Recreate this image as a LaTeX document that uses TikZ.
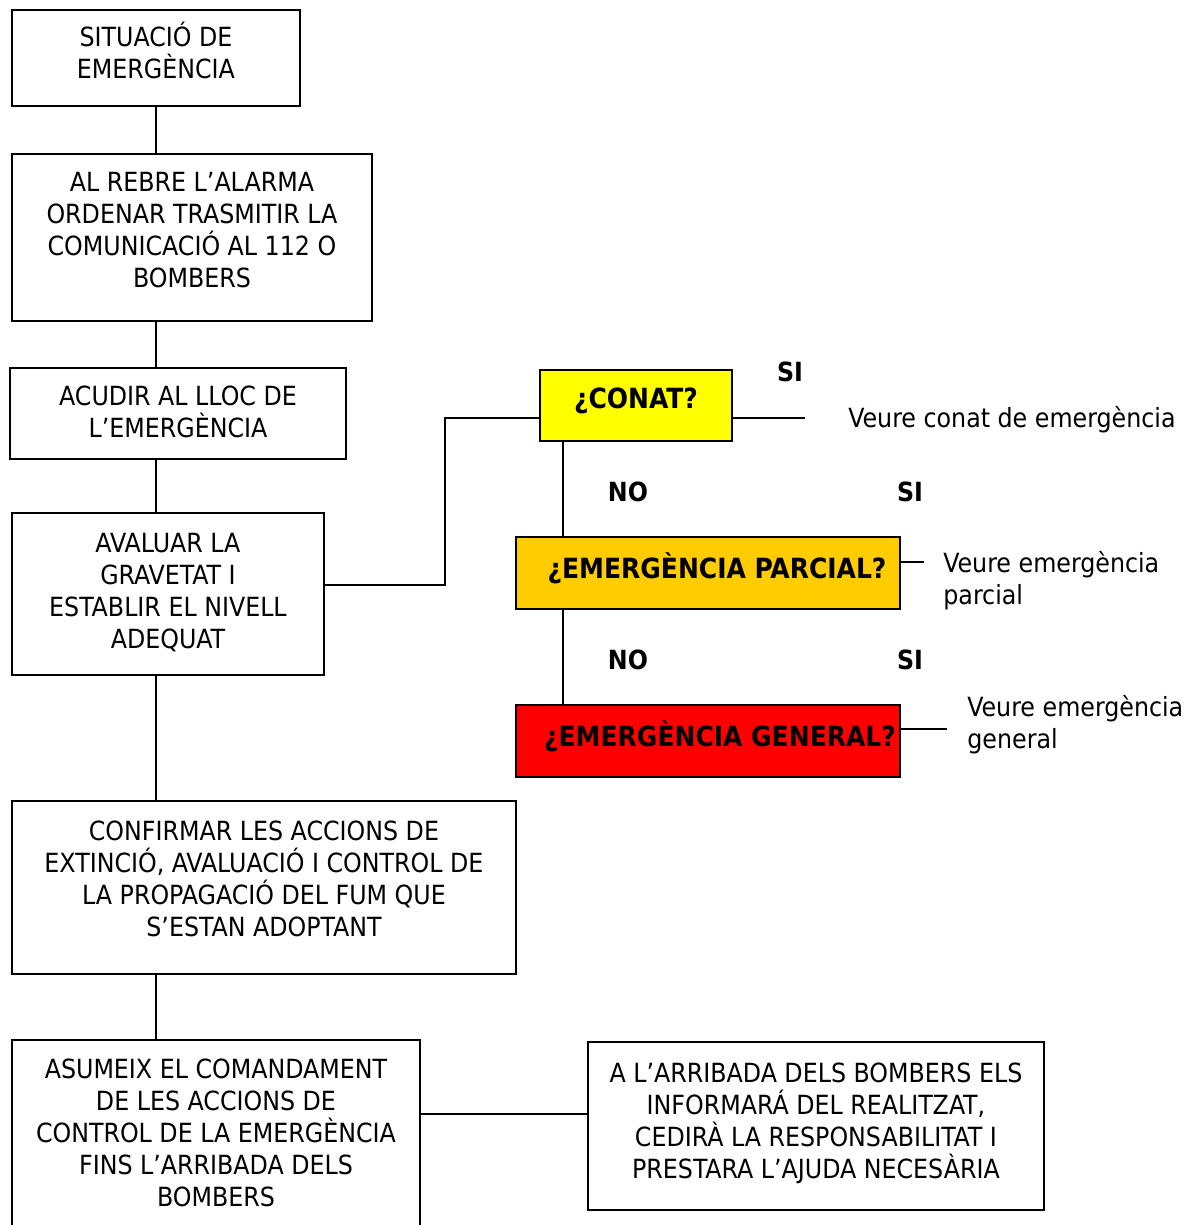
\documentclass[tikz,border=0pt]{standalone}
\usepackage{fontspec}
\setmainfont{DejaVu Sans Condensed}
\newcommand\flowfont{\fontsize{13.2}{16}\selectfont}
\newcommand\askfont{\fontsize{13.9}{16}\selectfont\bfseries}
\definecolor{conatyellow}{RGB}{255,255,0}
\definecolor{parcialorange}{RGB}{255,204,0}
\definecolor{generalred}{RGB}{255,0,0}
\tikzset{
  box/.style={draw, line width=1pt, align=center, inner sep=0pt, text depth=#1},
  box/.default=7pt,
  question/.style={box, font=\askfont},
  answer/.style={font=\flowfont\bfseries},
  note/.style={align=left, anchor=west, inner sep=0pt},
  link/.style={line width=1pt}
}
\begin{document}
\begin{tikzpicture}[x=0.5pt, y=-0.5pt, font=\flowfont]
\useasboundingbox (0,0) rectangle (1192,1225);
% left column
\node[box=7.5pt, minimum width=144pt, minimum height=48pt] (situacio) at (156,58) {SITUACIÓ DE\\EMERGÈNCIA};
\node[box=8pt, minimum width=180pt, minimum height=83.5pt] (alarma) at (192,237.5) {AL REBRE L’ALARMA\\ORDENAR TRASMITIR LA\\COMUNICACIÓ AL 112 O\\BOMBERS};
\node[box=2pt, minimum width=168pt, minimum height=45.5pt] (acudir) at (178,413.5) {ACUDIR AL LLOC DE\\L’EMERGÈNCIA};
\node[box=3pt, minimum width=156pt, minimum height=81pt] (avaluar) at (168,594) {AVALUAR LA\\GRAVETAT I\\ESTABLIR EL NIVELL\\ADEQUAT};
\node[box=9pt, minimum width=252pt, minimum height=86.5pt] (confirmar) at (264,887.5) {CONFIRMAR LES ACCIONS DE\\EXTINCIÓ, AVALUACIÓ I CONTROL DE\\LA PROPAGACIÓ DEL FUM QUE\\S’ESTAN ADOPTANT};
\node[box=2pt, minimum width=204pt, minimum height=95pt] (asumeix) at (216,1135) {ASUMEIX EL COMANDAMENT\\DE LES ACCIONS DE\\CONTROL DE LA EMERGÈNCIA\\FINS L’ARRIBADA DELS\\BOMBERS};
\node[box=5pt, minimum width=228pt, minimum height=84pt] (arribada) at (816,1126) {A L’ARRIBADA DELS BOMBERS ELS\\INFORMARÁ DEL REALITZAT,\\CEDIRÀ LA RESPONSABILITAT I\\PRESTARA L’AJUDA NECESÀRIA};
% questions
\node[question, fill=conatyellow, minimum width=96pt, minimum height=35.5pt] (conat) at (636,405.5) {¿CONAT?};
\node[question, fill=parcialorange, minimum width=192pt, minimum height=36pt] (parcial) at (708,573) {\hspace*{9pt}¿EMERGÈNCIA PARCIAL?};
\node[question, fill=generalred, minimum width=192pt, minimum height=36pt] (general) at (708,741) {\hspace*{12pt}¿EMERGÈNCIA GENERAL?};
% answers
\node[answer] (si1) at (790,372) {SI};
\node[answer] (no1) at (628,492) {NO};
\node[answer] (si2) at (910,492) {SI};
\node[answer] (no2) at (628,660) {NO};
\node[answer] (si3) at (910,660) {SI};
\node[note] (veureconat) at (848,420) {Veure conat de emergència};
\node[note] (veureparcial) at (943,581) {Veure emergència\\parcial};
\node[note] (veuregeneral) at (967,725) {Veure emergència\\general};
\coordinate (endconat) at (805,418);
\coordinate (endparcial) at (924,562);
\coordinate (endgeneral) at (947,729);
% connectors
\draw[link] (situacio.south) -- (situacio.south |- alarma.north);
\draw[link] (situacio.south |- alarma.south) -- (situacio.south |- acudir.north);
\draw[link] (situacio.south |- acudir.south) -- (situacio.south |- avaluar.north);
\draw[link] (situacio.south |- avaluar.south) -- (situacio.south |- confirmar.north);
\draw[link] (situacio.south |- confirmar.south) -- (situacio.south |- asumeix.north);
\draw[link] ([yshift=4.5pt]avaluar.east) -- ++(120,0) |- ([yshift=-6.25pt]conat.west);
\draw[link] ([yshift=-6.25pt]conat.east) -- (endconat);
\draw[link] ([xshift=12pt]conat.south west) -- ([xshift=12pt]conat.south west |- parcial.north);
\draw[link] ([xshift=24pt]parcial.south west) -- ([xshift=24pt]parcial.south west |- general.north);
\draw[link] (parcial.east |- endparcial) -- (endparcial);
\draw[link] (general.east |- endgeneral) -- (endgeneral);
\draw[link] ([yshift=6pt]arribada.west) -- ([yshift=6pt]arribada.west -| asumeix.east);
\end{tikzpicture}
\end{document}
